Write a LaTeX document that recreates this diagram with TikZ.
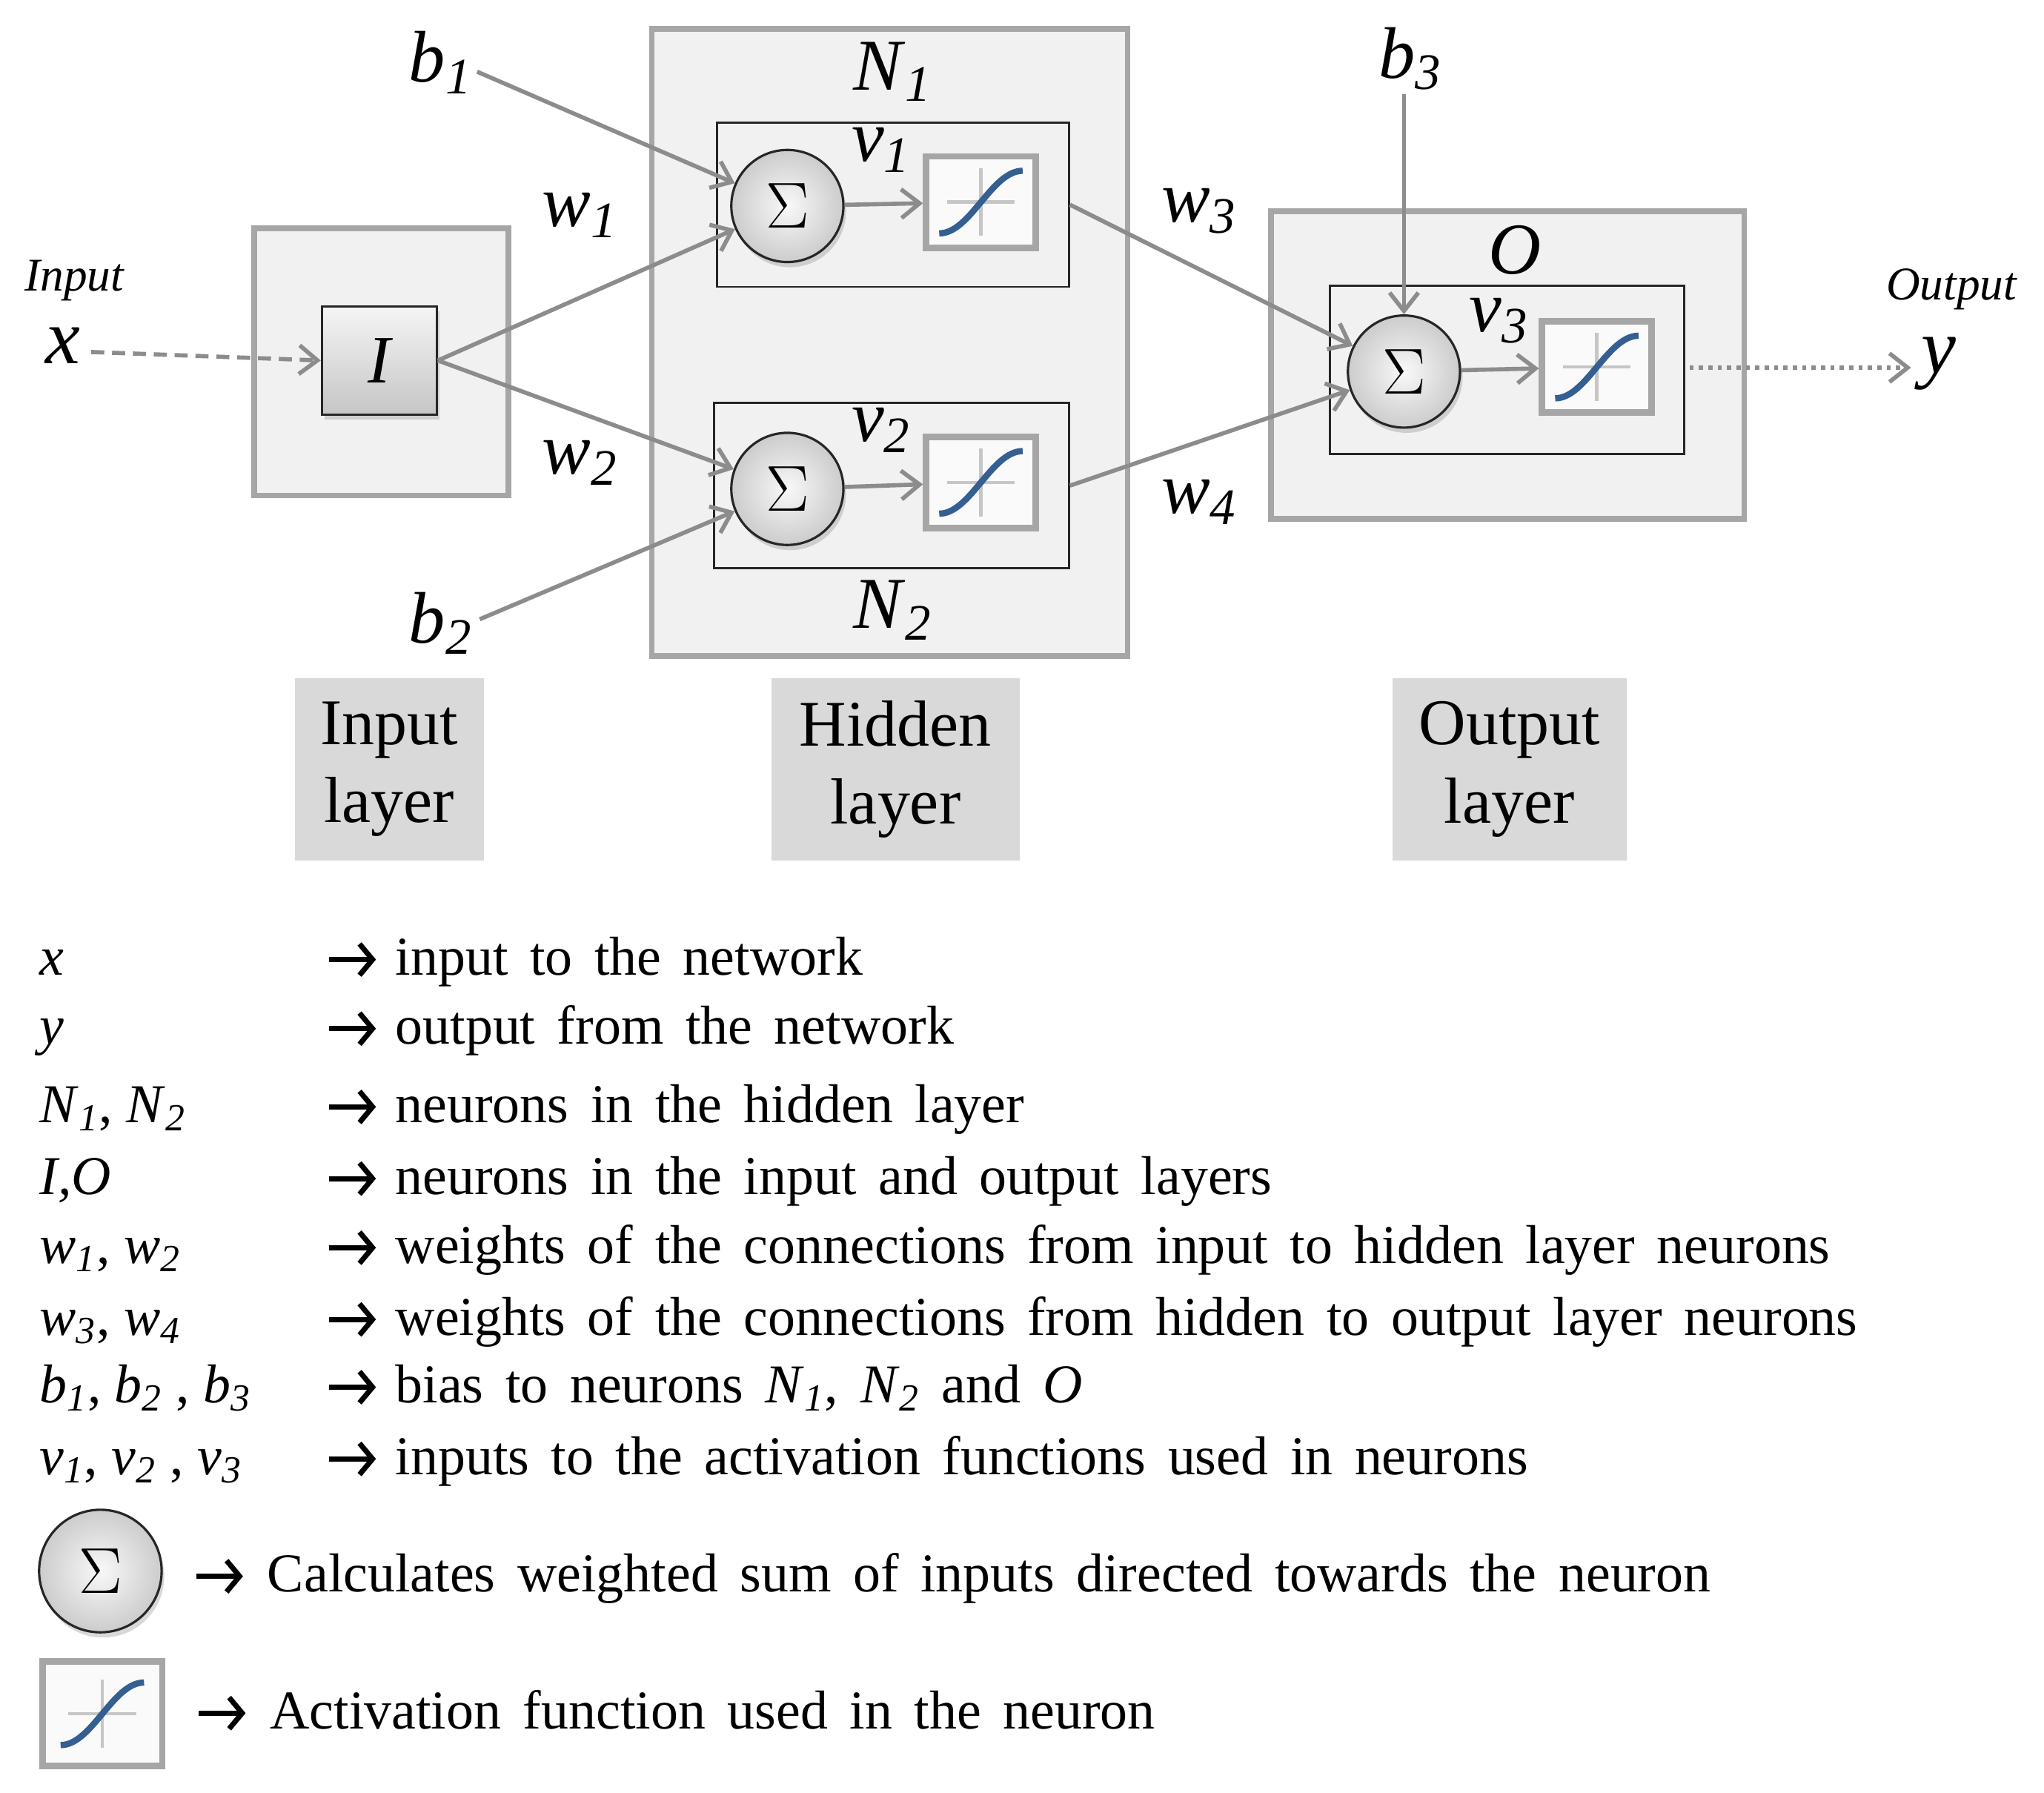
\documentclass[tikz,border=0pt]{standalone}
\usepackage{fontspec}
\setmainfont{Liberation Serif}
\usetikzlibrary{arrows.meta,shadows}
\definecolor{boxgray}{HTML}{A6A6A6}
\definecolor{boxfill}{HTML}{F1F1F1}
\definecolor{arrgray}{HTML}{8C8C8C}
\definecolor{labfill}{HTML}{D9D9D9}
\definecolor{curve}{HTML}{355F91}
\newcommand{\lb}[2]{\textit{#1}\textsubscript{\textit{#2}}}
\newcommand{\legfont}{\fontsize{21}{21}\selectfont\spaceskip 0.4em plus 0.1em\relax}
\newcommand{\rarr}{\tikz[baseline=0pt,x=1pt,y=1pt]{\draw[line width=2pt,-{Straight Barb[length=5pt,width=12pt,line width=2pt]}] (0pt,6pt) -- (18pt,6pt);}}
\tikzset{
 layer/.style={draw=boxgray,line width=2.2pt,fill=boxfill,inner sep=0pt},
 inner/.style={draw=black!85,line width=0.8pt,fill=boxfill,inner sep=0pt},
 sig/.style={circle,draw=black!85,line width=0.9pt,minimum size=43pt,inner sep=0pt,
   inner color=gray!5,outer color=gray!40,drop shadow={shadow xshift=1pt,shadow yshift=-2pt,opacity=0.3},font=\fontsize{24}{24}\selectfont},
 act/.style={draw=boxgray,line width=2.5pt,fill=white!96!gray,minimum width=42pt,minimum height=35pt,inner sep=0pt,
   path picture={
     \draw[gray!45,line width=1.3pt] ([xshift=-13pt]path picture bounding box.center) -- ([xshift=13pt]path picture bounding box.center);
     \draw[gray!45,line width=1.3pt] ([yshift=-13pt]path picture bounding box.center) -- ([yshift=13pt]path picture bounding box.center);
     \draw[curve,line width=2.4pt] ([xshift=-16pt,yshift=-12pt]path picture bounding box.center) .. controls +(12pt,0pt) and +(-12pt,0pt) .. ([xshift=16pt,yshift=12pt]path picture bounding box.center);}},
 con/.style={draw=arrgray,line width=1.6pt,-{Straight Barb[length=7pt,width=11pt,line width=1.6pt]}},
 ml/.style={font=\fontsize{28}{28}\selectfont},
 lay/.style={fill=labfill,align=center,inner sep=0pt,font=\fontsize{25}{30}\selectfont},
 leg/.style={anchor=base west,font=\legfont,inner sep=0pt},
 legl/.style={anchor=base west,font=\fontsize{21}{21}\selectfont,inner sep=0pt},
}
\begin{document}
\begin{tikzpicture}[x=0.5pt,y=-0.5pt]
\useasboundingbox[fill=white] (0,0) rectangle (1568,1375);
% boxes
\node[layer,minimum width=97.5pt,minimum height=102.5pt] (inbox) at (292.5,277.5) {};
\node[layer,minimum width=182.5pt,minimum height=240.5pt] (hidbox) at (682.5,262.5) {};
\node[layer,minimum width=181.5pt,minimum height=118pt] (outbox) at (1156.5,280) {};
\node[inner,minimum width=135pt,minimum height=63pt] (n1) at (685,157) {};
\node[inner,minimum width=136pt,minimum height=63.5pt] (n2) at (684,372.5) {};
\node[inner,minimum width=136pt,minimum height=64.5pt] (no) at (1156,283.5) {};
\node[draw=black!85,line width=0.9pt,top color=gray!8,bottom color=gray!45,minimum width=44pt,minimum height=41.5pt,inner sep=0pt,drop shadow={shadow xshift=1pt,shadow yshift=-2pt,opacity=0.3},font=\fontsize{26}{26}\selectfont\itshape] (I) at (291,276.5) {I};
\node[sig] (s1) at (604,158) {$\Sigma$};
\node[sig] (s2) at (604,375) {$\Sigma$};
\node[sig] (s3) at (1077,285) {$\Sigma$};
\node[act] (a1) at (752.5,155) {};
\node[act] (a2) at (752.5,370) {};
\node[act] (a3) at (1225,281.5) {};
% labels
\node[ml] (lN1) at (685,55) {\lb{N}{1}};
\node[ml] (lN2) at (685,468) {\lb{N}{2}};
\node[ml,font=\fontsize{28}{28}\selectfont\itshape] (lO) at (1162,192) {O};
\node[ml] (lb1) at (338,48) {\lb{b}{1}};
\node[ml] (lb2) at (338,478) {\lb{b}{2}};
\node[ml] (lb3) at (1082,45) {\lb{b}{3}};
\node[ml] at (445,165) {\lb{w}{1}};
\node[ml] at (445,355) {\lb{w}{2}};
\node[ml] at (920,162) {\lb{w}{3}};
\node[ml] at (920,385) {\lb{w}{4}};
\node[ml] at (676,115) {\lb{v}{1}};
\node[ml] at (676,330) {\lb{v}{2}};
\node[ml] at (1150,246) {\lb{v}{3}};
\node[font=\fontsize{18}{18}\selectfont\itshape] at (57,215) {Input};
\node[font=\fontsize{18}{18}\selectfont\itshape] at (1497,222) {Output};
\node[ml,font=\fontsize{30}{30}\selectfont\itshape] (x) at (48,265) {x};
\node[ml,font=\fontsize{30}{30}\selectfont\itshape] (y) at (1487,279) {y};
% coordinates
\coordinate (b1s) at (366,55);
\coordinate (b2s) at (368,475);
\coordinate (b3s) at (1077,72);
\coordinate (xs) at (70,270);
\coordinate (ys) at (1296,282);
\coordinate (ye) at (1466,282);
% connectors
\draw[con,dash pattern=on 5pt off 3pt] (xs) -- (I.west);
\draw[con] (I.east) -- (s1);
\draw[con] (I.east) -- (s2);
\draw[con] (b1s) -- (s1);
\draw[con] (b2s) -- (s2);
\draw[con] (b3s) -- (s3);
\draw[con] (n1.east) -- (s3);
\draw[con] (n2.east) -- (s3);
\draw[con] (s1) -- (a1);
\draw[con] (s2) -- (a2);
\draw[con] (s3) -- (a3);
\draw[con,dotted] (ys) -- (ye);
% layer labels
\node[lay,minimum width=72.5pt,minimum height=70pt] (L1) at (298.5,590) {Input\\layer};
\node[lay,minimum width=95pt,minimum height=70pt] (L2) at (687,590) {Hidden\\layer};
\node[lay,minimum width=90pt,minimum height=70pt] (L3) at (1158,590) {Output\\layer};
% legend
\node[legl] at (30,748) {\textit{x}}; \node[leg] at (250,748) {\rarr}; \node[leg] at (303,748) {input to the network};
\node[legl] at (30,801) {\textit{y}}; \node[leg] at (250,801) {\rarr}; \node[leg] at (303,801) {output from the network};
\node[legl] at (30,861) {\lb{N}{1}, \lb{N}{2}}; \node[leg] at (250,861) {\rarr}; \node[leg] at (303,861) {neurons in the hidden layer};
\node[legl] at (30,916) {\textit{I,O}}; \node[leg] at (250,916) {\rarr}; \node[leg] at (303,916) {neurons in the input and output layers};
\node[legl] at (30,969) {\lb{w}{1}, \lb{w}{2}}; \node[leg] at (250,969) {\rarr}; \node[leg] at (303,969) {weights of the connections from input to hidden layer neurons};
\node[legl] at (30,1024) {\lb{w}{3}, \lb{w}{4}}; \node[leg] at (250,1024) {\rarr}; \node[leg] at (303,1024) {weights of the connections from hidden to output layer neurons};
\node[legl] at (30,1076) {\lb{b}{1}, \lb{b}{2} , \lb{b}{3}}; \node[leg] at (250,1076) {\rarr}; \node[leg] at (303,1076) {bias to neurons \lb{N}{1}, \lb{N}{2} and \textit{O}};
\node[legl] at (30,1131) {\lb{v}{1}, \lb{v}{2} , \lb{v}{3}}; \node[leg] at (250,1131) {\rarr}; \node[leg] at (303,1131) {inputs to the activation functions used in neurons};
\node[sig,minimum size=47pt,font=\fontsize{26}{26}\selectfont] (ls) at (77,1205) {$\Sigma$};
\node[leg] at (148,1221) {\rarr\ Calculates weighted sum of inputs directed towards the neuron};
\node[act,minimum width=46pt,minimum height=40pt] (la) at (78.5,1314.5) {};
\node[leg] at (150,1326) {\rarr\ Activation function used in the neuron};
\end{tikzpicture}
\end{document}
